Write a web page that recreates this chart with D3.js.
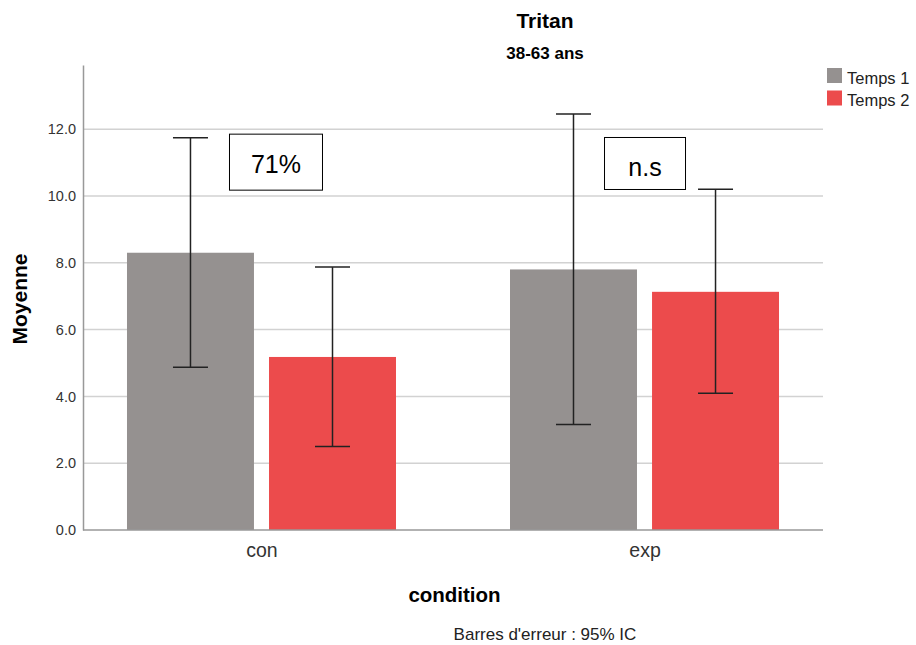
<!DOCTYPE html>
<html><head><meta charset="utf-8">
<script src="https://cdn.jsdelivr.net/npm/d3@7"></script>
<style>
body{margin:0;background:#fff;}
text{font-family:"Liberation Sans",Arial,sans-serif;}
</style></head>
<body><svg id="c" width="916" height="645"></svg>
<script>
const categories = ["con", "exp"];
const series = ["Temps 1", "Temps 2"];
const means = { "Temps 1": [8.30, 7.80], "Temps 2": [5.18, 7.13] };
const ciLow = { "Temps 1": [4.87, 3.16], "Temps 2": [2.50, 4.09] };
const ciHigh = { "Temps 1": [11.74, 12.45], "Temps 2": [7.87, 10.20] };
const yTicks = [0, 2, 4, 6, 8, 10, 12];
const annotations = [{ cat: "con", text: "71%", y: 11.85 }, { cat: "exp", text: "n.s", y: 11.75 }];
const colors = { "Temps 1": "#959190", "Temps 2": "#ec4b4c" };

const svg = d3.select("#c");
const pLeft = 83, pRight = 823, pTop = 65, pBottom = 530;

const y = d3.scaleLinear().domain([0, 13.92]).range([pBottom, pTop]);
const x0 = d3.scalePoint().domain(categories).range([pLeft, pRight]).padding(0.466);
const x1 = d3.scaleBand().domain(series).range([-134.5, 134.5]).paddingInner(0.106);

// grid
svg.append("g").selectAll("line").data(yTicks.filter(d => d > 0)).join("line")
  .attr("x1", pLeft).attr("x2", pRight).attr("y1", d => y(d)).attr("y2", d => y(d))
  .attr("stroke", "#d2d2d2").attr("stroke-width", 1.5);

// y axis
const yAxis = svg.append("g").attr("transform", `translate(${pLeft},0)`)
  .call(d3.axisLeft(y).tickValues(yTicks).tickFormat(d3.format(".1f")).tickSize(0).tickPadding(7));
yAxis.select(".domain").attr("stroke", "#999").attr("stroke-width", 1.5);
yAxis.selectAll("text").attr("font-size", 14.5).attr("fill", "#333").attr("font-family", "Liberation Sans, Arial, sans-serif");

// bars
const rows = [];
categories.forEach((c, i) => series.forEach(s => rows.push({ c, s, v: means[s][i], lo: ciLow[s][i], hi: ciHigh[s][i] })));
svg.append("g").selectAll("rect").data(rows).join("rect")
  .attr("x", d => x0(d.c) + x1(d.s)).attr("width", x1.bandwidth())
  .attr("y", d => y(d.v)).attr("height", d => y(0) - y(d.v))
  .attr("fill", d => colors[d.s]);

// x axis
const xAxis = svg.append("g").attr("transform", `translate(0,${pBottom})`)
  .call(d3.axisBottom(x0).tickSize(0).tickPadding(13));
xAxis.select(".domain").attr("stroke", "#999").attr("stroke-width", 1.5).attr("d", `M${pLeft},0H${pRight}`);
xAxis.selectAll("text").attr("font-size", 19.5).attr("fill", "#333").attr("font-family", "Liberation Sans, Arial, sans-serif");

// error bars
const eb = svg.append("g").attr("stroke", "#222").attr("stroke-width", 1.5);
const cx = d => x0(d.c) + x1(d.s) + x1.bandwidth() / 2;
eb.selectAll(".v").data(rows).join("line").attr("x1", cx).attr("x2", cx).attr("y1", d => y(d.lo)).attr("y2", d => y(d.hi));
eb.selectAll(".t").data(rows).join("line").attr("x1", d => cx(d) - 17.5).attr("x2", d => cx(d) + 17.5).attr("y1", d => y(d.hi)).attr("y2", d => y(d.hi));
eb.selectAll(".b").data(rows).join("line").attr("x1", d => cx(d) - 17.5).attr("x2", d => cx(d) + 17.5).attr("y1", d => y(d.lo)).attr("y2", d => y(d.lo));

// annotation boxes
const ann = svg.append("g").selectAll("g").data(annotations).join("g")
  .attr("transform", d => `translate(${x0(d.cat) + (d.cat === "con" ? -32 : -40)},${y(d.y)})`);
ann.append("rect").attr("width", d => d.cat === "con" ? 93 : 81).attr("height", d => d.cat === "con" ? 56 : 52)
  .attr("fill", "#fff").attr("stroke", "#000").attr("stroke-width", 1);
ann.append("text").attr("x", d => (d.cat === "con" ? 93 : 81) / 2).attr("y", d => d.cat === "con" ? 39 : 38.5)
  .attr("text-anchor", "middle").attr("font-size", 25).attr("font-family", "Lato, Carlito, sans-serif").attr("fill", "#000").text(d => d.text);

// titles
svg.append("text").attr("x", 545).attr("y", 27.5).attr("text-anchor", "middle").attr("font-size", 21).attr("font-weight", "bold").text("Tritan");
svg.append("text").attr("x", 545).attr("y", 59).attr("text-anchor", "middle").attr("font-size", 17).attr("font-weight", "bold").text("38-63 ans");
svg.append("text").attr("transform", "translate(27,299) rotate(-90)").attr("text-anchor", "middle").attr("font-size", 21).attr("font-weight", "bold").text("Moyenne");
svg.append("text").attr("x", 454.5).attr("y", 601.5).attr("text-anchor", "middle").attr("font-size", 20.5).attr("font-weight", "bold").text("condition");
svg.append("text").attr("x", 545).attr("y", 640).attr("text-anchor", "middle").attr("font-size", 17).attr("fill", "#222").text("Barres d'erreur : 95% IC");

// legend
const leg = svg.append("g").selectAll("g").data(series).join("g").attr("transform", (d, i) => `translate(827,${68 + i * 22.5})`);
leg.append("rect").attr("width", 15).attr("height", 15).attr("fill", d => colors[d]);
leg.append("text").attr("x", 20).attr("y", 15.5).attr("font-size", 16.5).attr("fill", "#222").text(d => d);
</script></body></html>
